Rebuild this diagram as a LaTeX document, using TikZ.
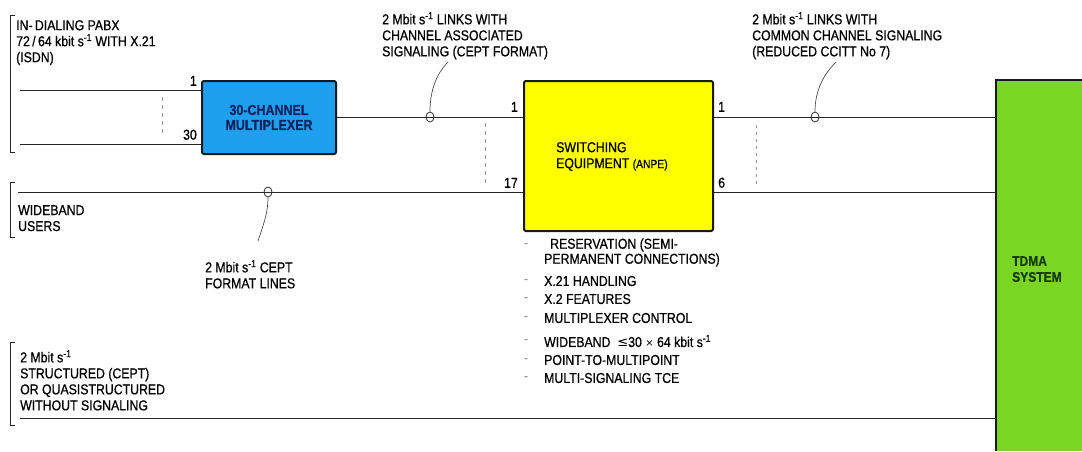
\documentclass[tikz,border=0pt]{standalone}
\usepackage{fontspec}
\setmainfont[FakeStretch=0.86,FakeBold=0.7]{Liberation Sans}
\newfontfamily\symfont{DejaVu Sans}
\definecolor{muxblue}{RGB}{30,160,238}
\definecolor{muxtext}{RGB}{20,35,95}
\definecolor{swyellow}{RGB}{255,255,0}
\definecolor{tdmagreen}{RGB}{122,214,34}
\definecolor{tdmatext}{RGB}{25,60,15}
\definecolor{dashgrey}{RGB}{150,150,150}
\newcommand{\sneg}{\textsuperscript{-1}}
\tikzset{
  lbl/.style={anchor=north west,inner sep=0pt,align=left,font=\fontsize{14.3}{16}\selectfont},
  num/.style={inner sep=0pt,font=\fontsize{14.3}{16}\selectfont},
  item/.style={anchor=west,inner sep=0pt,font=\fontsize{14.3}{16}\selectfont},
  dashmark/.style={inner sep=0pt,font=\fontsize{12}{12}\selectfont,text=dashgrey},
  wire/.style={line width=1pt,draw=black!85},
  chdash/.style={line width=0.9pt,draw=dashgrey,dash pattern=on 4pt off 4pt},
  bracket/.style={line width=1pt,draw=black!85},
  ring/.style={draw=black!80,line width=0.8pt,ellipse,minimum width=8pt,minimum height=10pt,inner sep=0pt},
  leader/.style={line width=0.7pt,draw=black!70},
  boxframe/.style={draw=black!90,line width=2pt,rounded corners=2pt}
}
\usetikzlibrary{shapes.geometric}
\begin{document}
\begin{tikzpicture}[x=1pt,y=-1pt]
\useasboundingbox (0,0) rectangle (1082,451);

% TDMA system block
\fill[tdmagreen] (996,80) rectangle (1082,451);
\draw[line width=1.6pt,draw=black!90] (996,451) -- (996,80) -- (1082,80);
\node[lbl,text=tdmatext,font=\fontsize{14}{16}\selectfont\bfseries] (tdma) at (1012,256) {TDMA\\SYSTEM};
\coordinate (tdmaA) at (996,117);
\coordinate (tdmaB) at (996,192);
\coordinate (tdmaC) at (996,418);

% 30-channel multiplexer
\node[boxframe,fill=muxblue,minimum width=134pt,minimum height=73pt,anchor=north west,align=center,
      font=\fontsize{14.5}{15}\selectfont\bfseries,text=muxtext] (mux) at (201,80) {30-CHANNEL\\MULTIPLEXER};

% switching equipment
\node[boxframe,fill=swyellow,minimum width=189pt,minimum height=150pt,anchor=north west] (sw) at (523,80) {};
\node[lbl] (swtext) at (556,142) {SWITCHING\\EQUIPMENT {\fontsize{12}{16}\selectfont(ANPE)}};

% PABX group
\draw[bracket] (15,15) -- (10,15) -- (10,152) -- (15,152);
\node[lbl] (pabx) at (16,20) {IN-\,DIALING PABX\\72\,/\,64 kbit s\sneg{} WITH X.21\\(ISDN)};
\coordinate (p1) at (20,90);
\coordinate (p30) at (20,144);
\draw[wire] (p1) -- (p1 -| mux.west);
\draw[wire] (p30) -- (p30 -| mux.west);
\draw[chdash] (162,97) -- (162,137);
\node[num,anchor=south east] (m1) at (197,86) {1};
\node[num,anchor=south east] (m30) at (197,140) {30};

% multiplexer to switching
\draw[wire] (mux.east |- 0,117) -- (sw.west |- 0,117);
\node[ring] (r1) at (430,117) {};
\coordinate (r1end) at (448,62);
\draw[leader] (r1.north) .. controls (430,88) and (438,72) .. (r1end);
\node[lbl] (cas) at (382,12) {2 Mbit s\sneg{} LINKS WITH\\CHANNEL ASSOCIATED\\SIGNALING (CEPT FORMAT)};
\node[num,anchor=south east] (s1) at (518,112) {1};
\node[num,anchor=south east] (s17) at (518,188) {17};
\draw[chdash] (485,123) -- (485,187);

% wideband users
\draw[bracket] (15,182) -- (10,182) -- (10,237) -- (15,237);
\node[lbl] (wb) at (18,205) {WIDEBAND\\USERS};
\coordinate (wbstart) at (18,192);
\draw[wire] (wbstart) -- (sw.west |- wbstart);
\node[ring] (r2) at (268,192) {};
\coordinate (r2end) at (258,241);
\draw[leader] (r2.south) .. controls (268,215) and (262,228) .. (r2end);
\node[lbl] (cept) at (205,260) {2 Mbit s\sneg{} CEPT\\FORMAT LINES};

% switching outputs to TDMA
\draw[wire] (sw.east |- tdmaA) -- (tdmaA);
\draw[wire] (sw.east |- tdmaB) -- (tdmaB);
\node[num,anchor=south west] (o1) at (718,112) {1};
\node[num,anchor=south west] (o6) at (718,188) {6};
\draw[chdash,dash pattern=on 3pt off 4pt] (756,125) -- (756,186);
\node[ring] (r3) at (815,117) {};
\coordinate (r3end) at (836,62);
\draw[leader] (r3.north) .. controls (815,90) and (824,74) .. (r3end);
\node[lbl] (ccs) at (752,12) {2 Mbit s\sneg{} LINKS WITH\\COMMON CHANNEL SIGNALING\\(REDUCED CCITT No 7)};

% feature list
\node[dashmark] (d1) at (526,245) {-};
\node[item] (b1) at (550,245) {RESERVATION (SEMI-};
\node[item] (b1b) at (544,260) {PERMANENT CONNECTIONS)};
\node[dashmark] (d2) at (526,281) {-};
\node[item] (b2) at (544,281) {X.21 HANDLING};
\node[dashmark] (d3) at (526,299) {-};
\node[item] (b3) at (544,299) {X.2 FEATURES};
\node[dashmark] (d4) at (526,318) {-};
\node[item] (b4) at (544,318) {MULTIPLEXER CONTROL};
\node[dashmark] (d5) at (526,341) {-};
\node[item] (b5) at (544,341) {WIDEBAND\ \ {\symfont\fontsize{13}{14}\selectfont ≤}30 {\symfont\fontsize{10}{14}\selectfont ×} 64 kbit s\sneg};
\node[dashmark] (d6) at (526,360) {-};
\node[item] (b6) at (544,360) {POINT-TO-MULTIPOINT};
\node[dashmark] (d7) at (526,378) {-};
\node[item] (b7) at (544,378) {MULTI-SIGNALING TCE};

% bottom group
\draw[bracket] (15,342) -- (10,342) -- (10,425) -- (15,425);
\node[lbl] (str) at (20,350) {2 Mbit s\sneg\\STRUCTURED (CEPT)\\OR QUASISTRUCTURED\\WITHOUT SIGNALING};
\coordinate (bstart) at (20,418);
\draw[wire] (bstart) -- (tdmaC);
\end{tikzpicture}
\end{document}
